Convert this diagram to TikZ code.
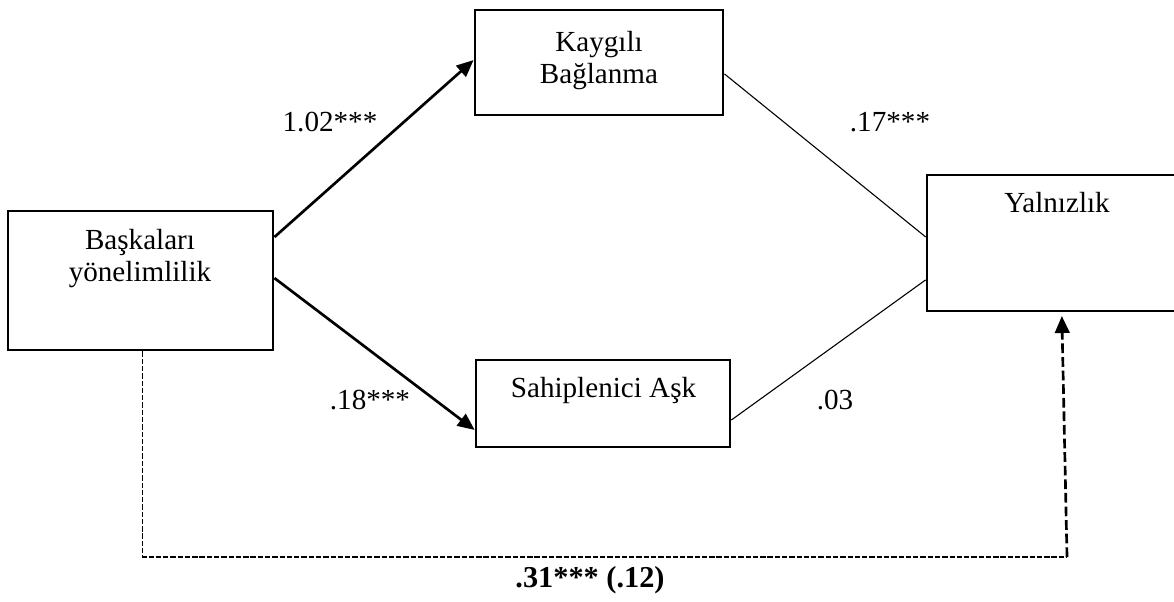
\documentclass[tikz,border=0pt]{standalone}
\usepackage{fontspec}
\setmainfont{Liberation Serif}
\usetikzlibrary{arrows.meta,positioning,calc}

\begin{document}
\begin{tikzpicture}[x=0.412pt, y=-0.412pt,
    every node/.style={font={\fontsize{12}{13}\selectfont}},
    box/.style={draw, line width=1.15pt, rectangle, inner sep=0pt},
    txt/.style={align=center, inner sep=0pt},
    coef/.style={inner sep=0pt},
    effect/.style={line width=1.1pt, -{Triangle[length=7pt,width=6pt]}},
    thinline/.style={line width=0.45pt},
    direct/.style={line width=0.45pt, dash pattern=on 2.2pt off 0.8pt},
    directarr/.style={line width=1.1pt, dash pattern=on 4pt off 1.6pt, -{Triangle[length=7pt,width=6pt]}}]
      \useasboundingbox (0,0) rectangle (1174,601);

      % Predictor
      \node[box, minimum width=109.2pt, minimum height=57.3pt] (ob) at (140.5, 280.5) {};
      \node[txt] (obtxt) at (140, 258.7) {Başkaları\\yönelimlilik};

      % Mediators
      \node[box, minimum width=102.2pt, minimum height=43.3pt] (kb) at (599, 62.5) {};
      \node[txt] (kbtxt) at (599, 60.7) {Kaygılı\\Bağlanma};
      \node[box, minimum width=104.6pt, minimum height=35.8pt] (sa) at (603, 403.5) {};
      \node[txt] (satxt) at (603.5, 390) {Sahiplenici Aşk};

      % Outcome
      \node[box, minimum width=107.1pt, minimum height=56pt] (ya) at (1057, 243) {};
      \node[txt] (yatxt) at (1057, 203) {Yalnızlık};

      % Coefficients
      \node[coef] (c1) at (330, 122) {1.02***};
      \node[coef] (c2) at (890, 122) {.17***};
      \node[coef] (c3) at (370, 400) {.18***};
      \node[coef] (c4) at (835, 400) {.03};
      \node[coef, font={\fontsize{12.5}{13}\selectfont\bfseries}] (c5) at (590, 580.6) {.31*** (.12)};

      % Paths
      \draw[effect] ([yshift=17.9pt]ob.east) -- ([yshift=1pt]kb.west);
      \draw[effect] ([yshift=1pt]ob.east) -- ([yshift=-10.9pt]sa.west);
      \draw[thinline] ([yshift=-4.7pt]kb.east) -- ([yshift=2.5pt]ya.west);
      \draw[thinline] ([yshift=-6.8pt]sa.east) -- ([yshift=-15.2pt]ya.west);

      % Direct effect
      \coordinate (corner) at (1067, 557);
      \draw[direct] ([xshift=1pt]ob.south) |- (corner);
      \draw[directarr] (corner) -- ([xshift=2pt, yshift=-1.5pt]ya.south);
    \end{tikzpicture}
\end{document}
